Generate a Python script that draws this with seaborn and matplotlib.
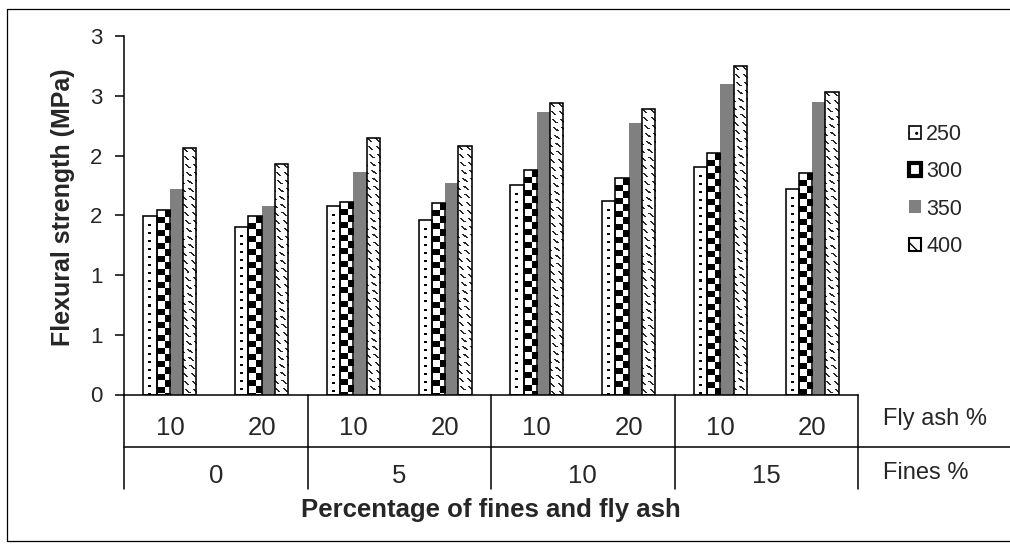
import numpy as np
import pandas as pd
import matplotlib
matplotlib.use("Agg")
import matplotlib.pyplot as plt
import matplotlib.transforms as mtransforms
from matplotlib.patches import Patch
from matplotlib.lines import Line2D
import seaborn as sns

# ---------------- data ----------------
fines_levels = ["0", "5", "10", "15"]
flyash_levels = ["10", "20"]
mixes = ["250", "300", "350", "400"]
s250 = [1.49, 1.40, 1.58, 1.46, 1.75, 1.62, 1.90, 1.72]
s300 = [1.54, 1.49, 1.61, 1.60, 1.88, 1.81, 2.02, 1.85]
s350 = [1.72, 1.58, 1.86, 1.77, 2.36, 2.27, 2.60, 2.45]
s400 = [2.06, 1.93, 2.15, 2.08, 2.44, 2.39, 2.75, 2.53]
yticks = [0, 0.5, 1.0, 1.5, 2.0, 2.5, 3.0]
ytick_labels = ["0", "1", "1", "2", "2", "3", "3"]
ylabel = "Flexural strength (MPa)"
xlabel = "Percentage of fines and fly ash"

cats = [f"{f}-{a}" for f in fines_levels for a in flyash_levels]
series = {"250": s250, "300": s300, "350": s350, "400": s400}
df = pd.DataFrame(
    [(c, m, series[m][i]) for m in mixes for i, c in enumerate(cats)],
    columns=["cat", "mix", "value"],
)

# ---------------- figure ----------------
W, H = 1010, 547
sns.set_style("white")
plt.rcParams["font.family"] = ["Liberation Sans", "DejaVu Sans"]
plt.rcParams["hatch.linewidth"] = 1.0

fig = plt.figure(figsize=(W / 100, H / 100), dpi=100)
fig.patch.set_facecolor("white")


def fx(x):
    return x / W


def fy(y):
    return 1 - y / H


ax_l, ax_r, ax_t, ax_b = 124, 858, 36, 394.5
ax = fig.add_axes([fx(ax_l), fy(ax_b), fx(ax_r - ax_l), (ax_b - ax_t) / H])

palette = {"250": "white", "300": "white", "350": "#808080", "400": "white"}
sns.barplot(data=df, x="cat", y="value", hue="mix", order=cats, hue_order=mixes,
            palette=palette, saturation=1, width=0.58, gap=0, errorbar=None,
            legend=False, ax=ax)

ax.set_xlim(-0.5, len(cats) - 0.5)
ax.set_ylim(0, 3.0)

edge_lw = 1.15
c250, c300, c350, c400 = ax.containers


def pattern_fill(p, kind):
    """Fill a bar with a pixel pattern image clipped to the bar patch."""
    x0, w, h = p.get_x(), p.get_width(), p.get_height()
    (px0, py0), (px1, py1) = ax.transData.transform([(x0, 0), (x0 + w, h)])
    wp = max(2, int(round(px1 - px0)))
    hp = max(2, int(round(py1 - py0)))
    r = np.arange(hp)[:, None]
    c = np.arange(wp)[None, :]
    if kind == "checker":
        cell = wp / 2.0
        img = ((np.floor(r / cell) + np.floor(c / cell)) % 2).astype(float)
    elif kind == "dots":
        cx = wp // 2
        img = (((r % 8) < 2) & ((c == cx) | (c == cx - 1))).astype(float)
        img[r[:, 0] < 3, :] = 0
    else:  # dashed downward diagonal
        img = ((((c - r) % 7) < 2) & ((r % 8) < 4)).astype(float)
        img = img * 0.85
    im = ax.imshow(img, extent=[x0, x0 + w, 0, h], origin="upper", cmap="gray_r",
                   vmin=0, vmax=1, interpolation="nearest", aspect="auto", zorder=2)
    im.set_clip_path(p)
    p.set_facecolor("none")
    p.set_edgecolor("black")
    p.set_linewidth(edge_lw)
    p.set_zorder(3)


for p in c250:
    pattern_fill(p, "dots")
for p in c300:
    pattern_fill(p, "checker")
for p in c350:
    p.set_facecolor("#808080"); p.set_edgecolor("none"); p.set_linewidth(0)
for p in c400:
    pattern_fill(p, "dash")

ax.set_xlim(-0.5, len(cats) - 0.5)
ax.set_ylim(0, 3.0)

# axes styling
for s in ["top", "right"]:
    ax.spines[s].set_visible(False)
for s in ["left", "bottom"]:
    ax.spines[s].set_color("black")
    ax.spines[s].set_linewidth(1.1)
    ax.spines[s].set_zorder(4)
ax.set_yticks(yticks)
ax.set_yticklabels(ytick_labels, fontsize=16)
ax.tick_params(axis="y", direction="out", length=6.5, width=1.1, color="black", pad=9,
               left=True)
ax.set_xticks([])
ax.set_xlabel("")
ax.set_ylabel("")

# category table below the axis
tr = mtransforms.blended_transform_factory(ax.transData, fig.transFigure)
for i, c in enumerate(cats):
    ax.text(i, fy(435), c.split("-")[1], transform=tr, ha="center", va="baseline",
            fontsize=18.5, clip_on=False)
for j, f in enumerate(fines_levels):
    ax.text(2 * j + 0.5, fy(483), f, transform=tr, ha="center", va="baseline",
            fontsize=18.5, clip_on=False)
for b in np.arange(-0.5, len(cats), 2):
    ax.add_line(Line2D([b, b], [fy(ax_b), fy(489)], transform=tr, color="black",
                       lw=1.1, clip_on=False))

fig.add_artist(Line2D([fx(ax_l), 1], [fy(447), fy(447)], color="black", lw=1.1))
fig.text(fx(883), fy(424.5), "Fly ash %", fontsize=17, va="baseline", ha="left")
fig.text(fx(883), fy(479), "Fines %", fontsize=17, va="baseline", ha="left")

# axis titles
fig.text(fx((ax_l + ax_r) / 2), fy(517), xlabel, fontsize=18.5, fontweight="bold",
         ha="center", va="baseline")
fig.text(fx(63), fy(207), ylabel, fontsize=18, fontweight="bold", rotation=90,
         ha="center", va="center")

# legend
handles = [
    Patch(facecolor="white", edgecolor="black", hatch="..", lw=1.2),
    Patch(facecolor="white", edgecolor="black", lw=3),
    Patch(facecolor="#808080", edgecolor="none"),
    Patch(facecolor="white", edgecolor="black", hatch="\\", lw=1.5),
]
fig.legend(handles, mixes, loc="center left", bbox_to_anchor=(fx(909), fy(190.5)),
           frameon=False, fontsize=15.5, handlelength=0.55, handleheight=0.55,
           handletextpad=0.25, labelspacing=0.75, borderpad=0, borderaxespad=0)

# chart-area border (right edge lies outside the picture)
bc = "black"
fig.add_artist(Line2D([fx(7), 1], [fy(9), fy(9)], color=bc, lw=0.9))
fig.add_artist(Line2D([fx(7), fx(7)], [fy(9), fy(541)], color=bc, lw=0.9))
fig.add_artist(Line2D([fx(7), 1], [fy(541), fy(541)], color=bc, lw=0.9))

fig.savefig("out.png", dpi=100, facecolor="white")
